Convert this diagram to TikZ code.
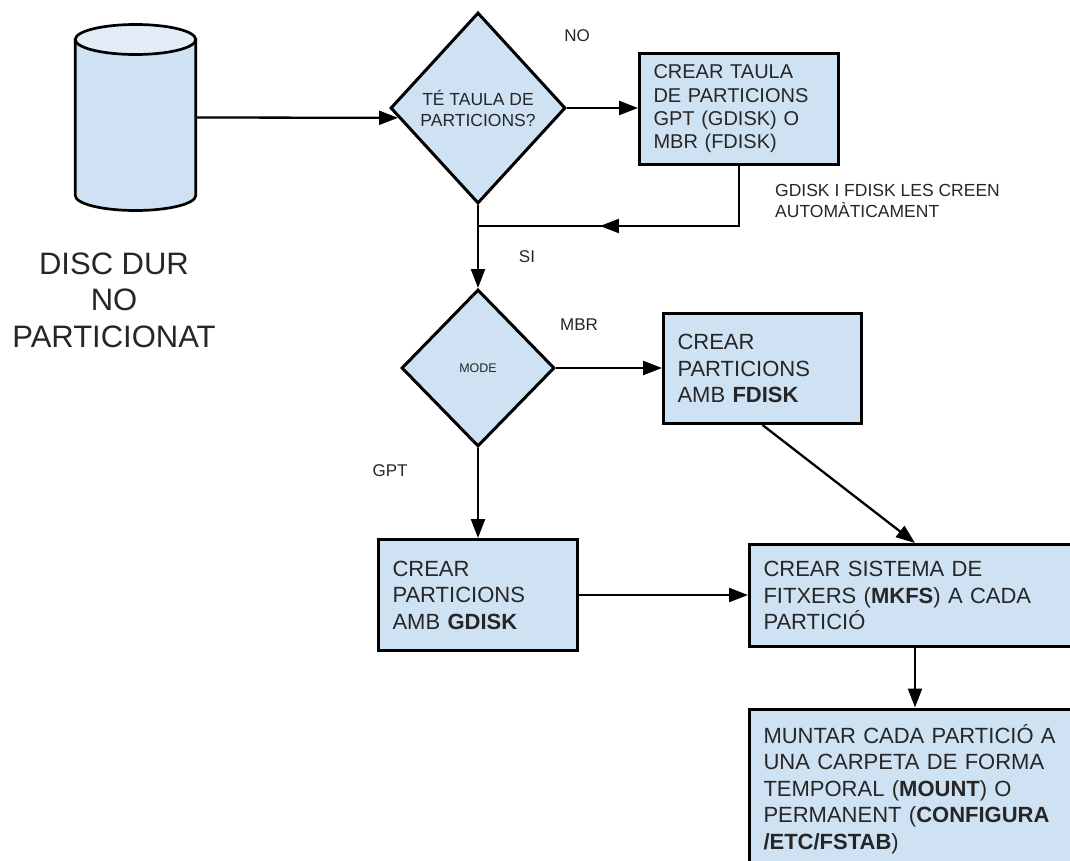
\documentclass[tikz,border=0pt]{standalone}
\usepackage{fontspec}
\setmainfont{Liberation Sans}
\usetikzlibrary{positioning,shapes.geometric,arrows.meta,decorations.markings}
\definecolor{blaucaixa}{HTML}{CFE2F3}
\definecolor{blautapa}{HTML}{E2EDF8}
\definecolor{textgris}{HTML}{262626}

\begin{document}
\begin{tikzpicture}[x=1pt,y=-1pt,
    caixa/.style={draw,fill=blaucaixa,line width=3pt,rectangle,inner xsep=14pt,align=left,text=textgris,font=\fontsize{22}{26.5}\selectfont},
    rombe/.style={draw,fill=blaucaixa,line width=3pt,diamond,inner sep=0pt,align=center,text=textgris},
    etiq/.style={inner sep=0pt,text=textgris,font=\fontsize{17}{21}\selectfont},
    fletxa/.style={line width=2.3pt,-{Triangle[length=19pt,width=14pt]}},
    fletxamig/.style={line width=2.3pt,postaction={decorate},decoration={markings,mark=at position 0.62 with {\arrow{Triangle[length=19pt,width=14pt]}}}}]
  \useasboundingbox (0,0) rectangle (1070,861);

  % disc dur
  \node[minimum width=120.5pt,minimum height=156pt,inner sep=0pt,outer sep=0pt] (disc) at (135.5,117.5) {};
  \draw[line width=2.7pt,fill=blaucaixa] (disc.north west) -- (disc.south west) arc[start angle=180,end angle=360,x radius=60.25pt,y radius=15pt] -- (disc.north east) -- cycle;
  \draw[line width=2.7pt,fill=blautapa] (disc.north) ellipse[x radius=60.25pt,y radius=15pt];
  \node[align=center,inner sep=0pt,text=textgris,font=\fontsize{31}{36.5}\selectfont] (nomdisc) at (114,300) {DISC DUR\\NO\\PARTICIONAT};

  \node[rombe,minimum width=175pt,minimum height=191pt,font=\fontsize{17.5}{21}\selectfont] (d1) at (478,108) {TÉ TAULA DE\\PARTICIONS?};
  \node[caixa,minimum width=199pt,minimum height=111pt,text width=171pt,font=\fontsize{20}{23.3}\selectfont] (taula) at (739,109) {CREAR TAULA\\DE PARTICIONS\\GPT (GDISK) O\\MBR (FDISK)};
  \node[rombe,minimum width=153pt,minimum height=157pt,font=\fontsize{12.5}{15}\selectfont] (d2) at (478,368) {MODE};
  \node[caixa,minimum width=198pt,minimum height=110pt,text width=170pt] (fdisk) at (762.5,368.5) {CREAR\\PARTICIONS\\AMB \textbf{FDISK}};
  \node[caixa,minimum width=199pt,minimum height=111pt,text width=171pt] (gdisk) at (478,595) {CREAR\\PARTICIONS\\AMB \textbf{GDISK}};
  \node[caixa,minimum width=331pt,minimum height=102pt,text width=303pt] (mkfs) at (915,595.5) {CREAR SISTEMA DE\\FITXERS (\textbf{MKFS}) A CADA\\PARTICIÓ};
  \node[caixa,minimum width=331pt,minimum height=160pt,text width=303pt] (muntar) at (915,789) {MUNTAR CADA PARTICIÓ A\\UNA CARPETA DE FORMA\\TEMPORAL (\textbf{MOUNT}) O\\PERMANENT (\textbf{CONFIGURA}\\\textbf{/ETC/FSTAB})};

  \node[etiq] (no) at (577,36) {NO};
  \node[etiq] (si) at (527,257) {SI};
  \node[etiq] (mbr) at (579,325) {MBR};
  \node[etiq] (gpt) at (390,471) {GPT};
  \node[etiq,anchor=north west,align=left,font=\fontsize{17.5}{21}\selectfont] (auto) at (775,184) {GDISK I FDISK LES CREEN\\AUTOMÀTICAMENT};

  \coordinate (unio) at (478,226);

  \draw[fletxa] (disc.east) -- (d1.187);
  \draw[fletxa] (d1.east) -- (d1.east -| taula.west);
  \draw[fletxamig] (taula.south) |- (unio);
  \draw[fletxa] (d1.south) -- (d2.north);
  \draw[fletxa] (d2.east) -- (d2.east -| fdisk.west);
  \draw[fletxa] (d2.south) -- (gdisk.north);
  \draw[fletxa] (fdisk.south) -- (mkfs.north);
  \draw[fletxa] (gdisk.east) -- (gdisk.east -| mkfs.west);
  \draw[fletxa] (mkfs.south) -- (muntar.north);
\end{tikzpicture}
\end{document}
